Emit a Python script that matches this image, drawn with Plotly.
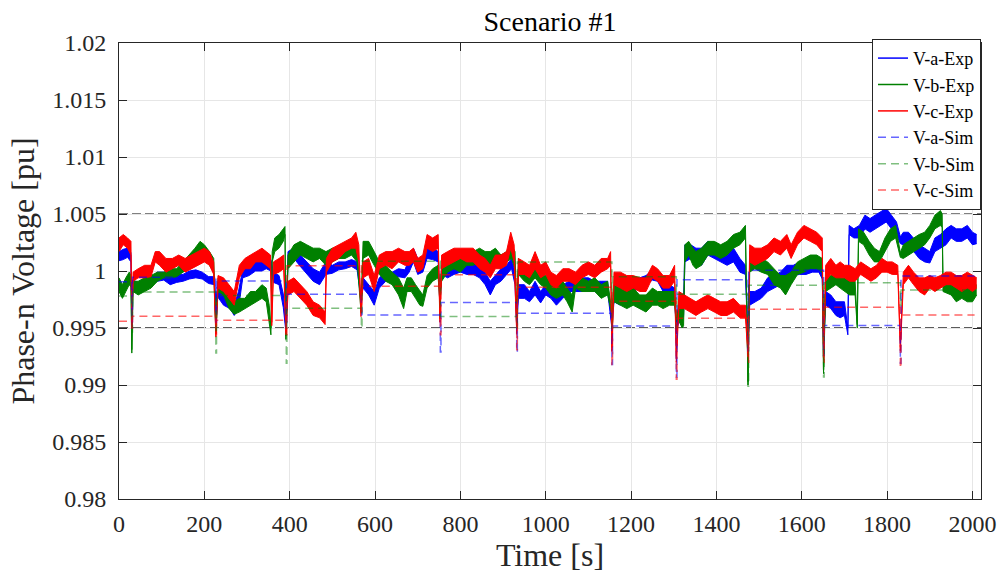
import plotly.graph_objects as go

# ---------------- data ----------------
# Experimental phase voltages: (time [s], band low [pu], band high [pu])
exp_a = [(0,1.0009,1.0017),(10,1.0010,1.0019),(20,1.0012,1.0020),(28,1.0008,1.0016),(30,0.9956,0.9960),(32,0.9985,0.9992),
 (45,0.9983,0.9990),(60,0.9985,0.9993),(75,0.9987,0.9994),(90,0.9991,0.9999),(105,0.9992,0.9999),(120,0.9988,0.9995),
 (135,0.9990,0.9997),(150,0.9991,0.9997),(165,0.9993,1.0000),(180,0.9994,1.0001),(195,0.9993,0.9999),(210,0.9989,0.9995),
 (224,0.9988,0.9995),(227,0.9962,0.9966),(230,0.9978,0.9986),(245,0.9970,0.9982),(260,0.9967,0.9976),(270,0.9961,0.9970),
 (280,0.9967,0.9982),(290,0.9994,1.0002),(305,0.9996,1.0008),(320,1.0000,1.0008),(335,1.0000,1.0010),(345,1.0002,1.0012),
 (356,1.0000,1.0010),(362,0.9990,0.9999),(375,0.9988,0.9996),(385,0.9968,0.9980),(391,0.9947,0.9950),(396,1.0008,1.0017),
 (410,1.0011,1.0020),(425,1.0004,1.0014),(440,0.9997,1.0008),(455,0.9991,1.0002),(470,0.9988,0.9999),(485,0.9997,1.0008),
 (500,0.9998,1.0005),(515,1.0001,1.0008),(530,1.0002,1.0008),(545,1.0004,1.0010),(558,1.0001,1.0008),(567,0.9975,0.9978),
 (572,0.9985,0.9994),(585,0.9979,0.9988),(598,0.9970,0.9982),(610,0.9985,0.9994),(625,0.9991,0.9999),(640,0.9992,0.9999),
 (655,0.9995,1.0002),(670,0.9994,1.0001),(680,0.9999,1.0011),(690,1.0008,1.0020),(700,0.9997,1.0011),(712,0.9999,1.0008),
 (722,1.0011,1.0020),(735,1.0010,1.0020),(748,1.0008,1.0017),(752,0.9968,0.9972),(756,0.9997,1.0005),(770,0.9994,1.0002),
 (785,0.9997,1.0008),(800,0.9999,1.0008),(815,0.9997,1.0005),(830,0.9997,1.0008),(845,0.9994,1.0005),(858,0.9988,0.9999),
 (870,0.9979,0.9991),(882,0.9988,0.9996),(895,0.9991,1.0002),(908,0.9997,1.0005),(920,1.0002,1.0011),(928,0.9988,0.9999),
 (932,0.9950,0.9953),(936,0.9976,0.9988),(950,0.9976,0.9988),(962,0.9973,0.9982),(975,0.9979,0.9991),(988,0.9972,0.9982),
 (1000,0.9979,0.9988),(1012,0.9976,0.9988),(1025,0.9970,0.9985),(1040,0.9976,0.9988),(1055,0.9982,0.9991),(1070,0.9982,0.9991),
 (1085,0.9982,0.9994),(1100,0.9985,0.9994),(1115,0.9982,0.9991),(1130,0.9979,0.9991),(1145,0.9982,0.9991),(1155,0.9950,0.9953),
 (1160,0.9973,0.9985),(1175,0.9970,0.9982),(1190,0.9979,0.9991),(1205,0.9982,0.9994),(1220,0.9985,0.9994),(1235,0.9988,0.9996),
 (1250,0.9992,1.0001),(1262,0.9991,0.9999),(1275,0.9982,0.9991),(1290,0.9979,0.9988),(1302,0.9976,0.9985),(1306,0.9945,0.9948),
 (1312,0.9956,0.9973),(1320,0.9959,0.9970),(1323,0.9960,0.9968),(1326,1.0008,1.0023),(1340,1.0011,1.0023),(1352,1.0008,1.0020),
 (1365,1.0005,1.0020),(1380,1.0014,1.0026),(1395,1.0011,1.0023),(1410,1.0008,1.0020),(1425,1.0005,1.0017),(1440,1.0008,1.0020),
 (1455,0.9999,1.0011),(1468,0.9997,1.0005),(1474,0.9935,0.9938),(1478,0.9970,0.9982),(1490,0.9973,0.9982),(1505,0.9976,0.9985),
 (1520,0.9982,0.9994),(1535,0.9985,0.9996),(1550,0.9988,0.9999),(1565,0.9994,1.0005),(1580,0.9996,1.0005),(1595,0.9997,1.0008),
 (1610,0.9997,1.0005),(1625,0.9999,1.0008),(1640,0.9999,1.0008),(1648,0.9993,1.0000),(1651,0.9935,0.9938),(1656,0.9970,0.9982),
 (1668,0.9967,0.9979),(1680,0.9961,0.9973),(1690,0.9959,0.9973),(1700,0.9961,0.9973),(1708,0.9944,0.9950),(1711,1.0032,1.0040),
 (1722,1.0029,1.0037),(1735,1.0029,1.0040),(1748,1.0037,1.0049),(1760,1.0034,1.0046),(1772,1.0037,1.0049),(1785,1.0040,1.0052),
 (1798,1.0043,1.0055),(1810,1.0037,1.0049),(1822,1.0032,1.0043),(1831,1.0024,1.0030),(1838,1.0023,1.0034),(1850,1.0023,1.0034),
 (1862,1.0017,1.0029),(1875,1.0011,1.0023),(1888,1.0008,1.0020),(1900,1.0007,1.0017),(1912,1.0017,1.0029),(1925,1.0020,1.0032),
 (1938,1.0023,1.0037),(1950,1.0029,1.0040),(1962,1.0026,1.0037),(1975,1.0026,1.0037),(1988,1.0029,1.0040),(2000,1.0023,1.0034),
 (2010,1.0024,1.0032)]

exp_b = [(0,0.9982,0.9994),(8,0.9976,0.9988),(16,0.9982,0.9994),(24,0.9988,0.9999),(28,0.9986,0.9996),(30,0.9928,0.9931),
 (33,0.9982,0.9991),(45,0.9979,0.9991),(60,0.9982,0.9994),(75,0.9985,0.9996),(90,0.9991,0.9999),(105,0.9994,0.9999),
 (120,0.9994,1.0002),(135,0.9995,1.0002),(150,0.9999,1.0008),(165,1.0002,1.0014),(178,1.0011,1.0020),(190,1.0017,1.0026),
 (200,1.0014,1.0023),(212,1.0005,1.0017),(222,0.9999,1.0011),(227,0.9945,0.9948),(232,0.9982,0.9994),(245,0.9979,0.9991),
 (258,0.9967,0.9979),(270,0.9962,0.9973),(282,0.9964,0.9976),(295,0.9967,0.9976),(308,0.9970,0.9982),(320,0.9973,0.9982),
 (335,0.9976,0.9988),(345,0.9973,0.9985),(352,0.9956,0.9970),(356,0.9944,0.9950),(359,1.0008,1.0017),(365,1.0017,1.0029),
 (375,1.0020,1.0032),(385,1.0026,1.0037),(389,1.0032,1.0039),(391,0.9940,0.9943),(396,1.0002,1.0014),(410,1.0008,1.0023),
 (425,1.0014,1.0026),(440,1.0011,1.0023),(455,1.0008,1.0020),(470,1.0011,1.0020),(485,1.0005,1.0017),(500,1.0008,1.0020),
 (515,1.0011,1.0020),(530,1.0011,1.0023),(545,1.0014,1.0026),(558,1.0008,1.0020),(567,0.9965,0.9968),(572,1.0011,1.0026),
 (585,1.0014,1.0026),(598,1.0005,1.0017),(610,0.9997,1.0008),(625,0.9991,1.0005),(640,0.9988,0.9999),(655,0.9979,0.9994),
 (667,0.9967,0.9985),(675,0.9982,0.9994),(685,0.9982,0.9994),(695,0.9976,0.9988),(705,0.9970,0.9982),(712,0.9969,0.9979),
 (722,0.9985,0.9996),(735,0.9991,1.0002),(748,0.9994,1.0005),(752,0.9972,0.9975),(756,0.9991,1.0002),(770,0.9999,1.0011),
 (785,1.0002,1.0014),(800,0.9999,1.0011),(815,1.0005,1.0017),(830,1.0005,1.0017),(845,1.0008,1.0020),(858,1.0005,1.0017),
 (870,1.0005,1.0017),(882,1.0008,1.0020),(895,1.0002,1.0014),(908,1.0008,1.0017),(920,1.0011,1.0023),(928,1.0002,1.0017),
 (932,0.9960,0.9963),(936,0.9997,1.0011),(950,0.9991,1.0005),(962,0.9988,0.9999),(975,0.9994,1.0005),(988,0.9988,0.9999),
 (1000,0.9985,0.9996),(1012,0.9979,0.9996),(1025,0.9976,0.9988),(1040,0.9979,0.9991),(1050,0.9973,0.9985),(1062,0.9964,0.9979),
 (1070,0.9985,0.9994),(1085,0.9982,0.9994),(1100,0.9982,0.9991),(1115,0.9982,0.9994),(1130,0.9976,0.9988),(1145,0.9979,0.9991),
 (1155,0.9962,0.9965),(1160,0.9973,0.9988),(1175,0.9970,0.9988),(1190,0.9967,0.9982),(1205,0.9970,0.9985),(1220,0.9967,0.9979),
 (1235,0.9964,0.9979),(1250,0.9970,0.9985),(1262,0.9970,0.9982),(1275,0.9967,0.9982),(1290,0.9970,0.9982),(1302,0.9970,0.9982),
 (1306,0.9955,0.9958),(1312,0.9956,0.9970),(1320,0.9950,0.9967),(1323,0.9952,0.9962),(1326,1.0008,1.0023),(1335,1.0014,1.0026),
 (1345,1.0005,1.0020),(1352,1.0002,1.0017),(1365,1.0005,1.0020),(1380,1.0014,1.0026),(1395,1.0014,1.0026),(1410,1.0011,1.0023),
 (1425,1.0014,1.0026),(1440,1.0020,1.0032),(1455,1.0023,1.0034),(1468,1.0029,1.0040),(1474,0.9900,0.9903),(1478,0.9999,1.0017),
 (1490,1.0002,1.0014),(1505,0.9999,1.0011),(1520,0.9997,1.0008),(1535,0.9988,1.0002),(1550,0.9985,0.9996),(1562,0.9979,0.9996),
 (1575,0.9988,0.9999),(1590,0.9997,1.0008),(1605,0.9999,1.0011),(1620,1.0002,1.0014),(1635,1.0002,1.0014),(1648,0.9999,1.0011),
 (1651,0.9910,0.9913),(1656,0.9982,0.9994),(1668,0.9985,0.9996),(1680,0.9988,0.9999),(1690,0.9985,0.9994),(1700,0.9982,0.9994),
 (1712,0.9979,0.9994),(1725,0.9979,0.9991),(1730,0.9950,0.9953),(1733,1.0026,1.0037),(1745,1.0023,1.0034),(1758,1.0014,1.0026),
 (1770,1.0008,1.0020),(1782,1.0008,1.0017),(1795,1.0017,1.0029),(1808,1.0026,1.0037),(1820,1.0029,1.0040),(1831,1.0012,1.0016),
 (1838,1.0011,1.0023),(1850,1.0014,1.0026),(1862,1.0017,1.0029),(1875,1.0020,1.0032),(1888,1.0023,1.0034),(1900,1.0029,1.0040),
 (1912,1.0037,1.0049),(1925,1.0040,1.0053),(1929,1.0038,1.0050),(1931,0.9982,0.9994),(1950,0.9979,0.9988),(1962,0.9973,0.9985),
 (1975,0.9976,0.9988),(1988,0.9973,0.9985),(2000,0.9973,0.9985),(2010,0.9979,0.9988)]

exp_c = [(0,1.0017,1.0029),(10,1.0023,1.0032),(20,1.0020,1.0029),(28,1.0014,1.0026),(30,0.9950,0.9953),(33,0.9991,0.9999),
 (45,0.9994,1.0002),(60,0.9994,1.0005),(75,0.9995,1.0005),(85,1.0008,1.0017),(95,1.0005,1.0017),(110,0.9999,1.0011),
 (125,1.0002,1.0011),(140,1.0005,1.0014),(155,0.9999,1.0011),(170,1.0002,1.0014),(185,1.0005,1.0017),(200,1.0008,1.0020),
 (212,1.0005,1.0017),(222,0.9997,1.0008),(227,0.9942,0.9945),(232,0.9985,0.9996),(245,0.9982,0.9994),(258,0.9976,0.9988),
 (270,0.9970,0.9982),(282,0.9994,1.0005),(295,1.0002,1.0011),(308,1.0002,1.0014),(320,1.0008,1.0017),(335,1.0008,1.0020),
 (345,1.0005,1.0017),(355,1.0002,1.0014),(358,0.9952,0.9955),(362,0.9997,1.0008),(375,0.9999,1.0011),(386,1.0002,1.0014),
 (391,0.9944,0.9947),(396,0.9979,0.9991),(410,0.9982,0.9994),(425,0.9976,0.9988),(440,0.9970,0.9982),(455,0.9961,0.9973),
 (470,0.9959,0.9970),(483,0.9953,0.9964),(486,0.9999,1.0011),(500,1.0008,1.0020),(515,1.0011,1.0023),(530,1.0017,1.0026),
 (545,1.0020,1.0029),(555,1.0020,1.0034),(562,1.0008,1.0023),(567,0.9960,0.9963),(572,0.9994,1.0008),(585,0.9997,1.0011),
 (598,0.9982,0.9996),(610,1.0002,1.0014),(625,1.0005,1.0017),(640,1.0002,1.0017),(655,1.0008,1.0020),(670,1.0005,1.0017),
 (680,1.0005,1.0017),(690,1.0008,1.0020),(700,0.9999,1.0011),(712,1.0002,1.0014),(722,1.0020,1.0032),(735,1.0017,1.0029),
 (748,1.0020,1.0032),(752,0.9955,0.9958),(756,1.0002,1.0014),(770,1.0005,1.0017),(785,1.0008,1.0020),(800,1.0011,1.0020),
 (815,1.0008,1.0020),(830,1.0008,1.0020),(845,1.0002,1.0014),(858,0.9999,1.0011),(870,0.9994,1.0005),(882,1.0002,1.0014),
 (895,1.0002,1.0014),(908,1.0005,1.0017),(918,1.0020,1.0034),(926,1.0008,1.0023),(932,0.9945,0.9948),(936,0.9997,1.0011),
 (950,0.9997,1.0008),(962,0.9994,1.0005),(975,1.0002,1.0017),(988,0.9994,1.0005),(1000,0.9997,1.0008),(1012,0.9988,0.9999),
 (1025,0.9985,0.9996),(1040,0.9991,1.0002),(1055,0.9991,1.0002),(1070,0.9988,0.9999),(1085,0.9994,1.0005),(1100,0.9997,1.0008),
 (1115,0.9994,1.0005),(1130,0.9999,1.0011),(1145,1.0002,1.0011),(1152,1.0005,1.0017),(1155,0.9930,0.9933),(1160,0.9988,0.9999),
 (1175,0.9985,0.9999),(1190,0.9982,0.9996),(1205,0.9985,0.9996),(1220,0.9982,0.9994),(1235,0.9982,0.9994),(1250,0.9994,1.0005),
 (1262,0.9991,1.0002),(1275,0.9985,0.9996),(1290,0.9985,0.9996),(1302,0.9991,1.0005),(1306,0.9920,0.9923),(1312,0.9967,0.9982),
 (1325,0.9967,0.9979),(1340,0.9964,0.9976),(1352,0.9961,0.9973),(1365,0.9964,0.9976),(1380,0.9967,0.9979),(1395,0.9964,0.9976),
 (1410,0.9961,0.9973),(1425,0.9961,0.9973),(1440,0.9964,0.9976),(1455,0.9959,0.9970),(1468,0.9959,0.9970),(1474,0.9925,0.9928),
 (1478,1.0008,1.0023),(1490,1.0005,1.0020),(1505,1.0008,1.0020),(1520,1.0011,1.0023),(1535,1.0017,1.0029),(1550,1.0014,1.0026),
 (1565,1.0020,1.0032),(1575,1.0011,1.0023),(1590,1.0023,1.0034),(1605,1.0029,1.0040),(1620,1.0026,1.0037),(1635,1.0023,1.0034),
 (1648,1.0017,1.0029),(1651,0.9925,0.9928),(1656,0.9991,1.0005),(1668,0.9997,1.0011),(1680,0.9994,1.0005),(1690,0.9994,1.0008),
 (1700,0.9994,1.0005),(1712,0.9991,1.0005),(1725,0.9991,1.0002),(1738,0.9997,1.0008),(1750,0.9994,1.0005),(1762,0.9991,1.0002),
 (1775,0.9994,1.0005),(1788,0.9999,1.0011),(1800,0.9999,1.0008),(1812,0.9997,1.0008),(1825,0.9997,1.0005),(1831,0.9930,0.9933),
 (1838,0.9988,0.9999),(1850,0.9994,1.0005),(1862,0.9988,0.9999),(1875,0.9982,0.9994),(1888,0.9979,0.9994),(1900,0.9985,0.9996),
 (1912,0.9982,0.9994),(1925,0.9985,0.9996),(1938,0.9988,0.9999),(1950,0.9988,0.9999),(1962,0.9985,0.9996),(1975,0.9982,0.9996),
 (1988,0.9985,0.9999),(2000,0.9982,0.9996),(2010,0.9985,0.9994)]

# Simulation: switching instants, piecewise-constant levels and the dip at each switching instant
sim_events = [30, 227, 392, 568, 753, 932, 1155, 1306, 1474, 1651, 1831]
sim_end = 2005
sim_a_levels = [0.99906, 0.99945, 0.99912, 0.99796, 0.99615, 0.99723, 0.99629, 0.99518, 0.99924, 1.00006, 0.99521, 0.99956]
sim_b_levels = [0.99781, 0.99816, 0.99784, 0.99673, 1.00085, 0.99600, 1.00079, 0.99950, 0.99796, 0.99875, 0.99898, 0.99834]
sim_c_levels = [0.99560, 0.99603, 0.99568, 1.00046, 0.99866, 0.99968, 0.99857, 0.99735, 0.99586, 0.99665, 0.99682, 0.99615]
sim_a_dips = [0.9950, 0.9955, 0.9950, 0.9970, 0.9929, 0.9929, 0.9918, 0.9907, 0.9930, 0.9926, 0.9919]
sim_b_dips = [0.9945, 0.9928, 0.9919, 0.9950, 0.9960, 0.9950, 0.9950, 0.9950, 0.9899, 0.9907, 0.9970]
sim_c_dips = [0.9950, 0.9944, 0.9944, 0.9965, 0.9944, 0.9931, 0.9918, 0.9905, 0.9920, 0.9920, 0.9915]

limit_levels = [1.005, 0.995]
y_tickvals = [0.98, 0.985, 0.99, 0.995, 1.0, 1.005, 1.01, 1.015, 1.02]
y_ticktext = ["0.98", "0.985", "0.99", "0.995", "1", "1.005", "1.01", "1.015", "1.02"]
x_tickvals = [0, 200, 400, 600, 800, 1000, 1200, 1400, 1600, 1800, 2000]

names_exp = ["V-a-Exp", "V-b-Exp", "V-c-Exp"]
names_sim = ["V-a-Sim", "V-b-Sim", "V-c-Sim"]

# ---------------- styles ----------------
FONT = "Liberation Serif"
exp_colors = ["#0000ff", "#008000", "#ff0000"]
sim_colors = ["rgba(0,0,255,0.6)", "rgba(0,128,0,0.5)", "rgba(255,0,0,0.6)"]

fig = go.Figure()

# experimental bands
for rows, col in zip([exp_a, exp_b, exp_c], exp_colors):
    t = [r[0] for r in rows]
    lo = [r[1] for r in rows]
    hi = [r[2] for r in rows]
    fig.add_trace(go.Scatter(x=t, y=lo, mode="lines", line=dict(color=col, width=1),
                             showlegend=False, hoverinfo="skip"))
    fig.add_trace(go.Scatter(x=t, y=hi, mode="lines", line=dict(color=col, width=1),
                             fill="tonexty", fillcolor=col, showlegend=False, hoverinfo="skip"))

# simulation step traces
for levels, dips, col in zip([sim_a_levels, sim_b_levels, sim_c_levels],
                             [sim_a_dips, sim_b_dips, sim_c_dips], sim_colors):
    xs = [0]
    ys = [levels[0]]
    for i, e in enumerate(sim_events):
        xs += [e, e + 1.5]
        ys += [dips[i], levels[i + 1]]
    xs.append(sim_end)
    ys.append(levels[-1])
    fig.add_trace(go.Scatter(x=xs, y=ys, mode="lines", line_shape="hv",
                             line=dict(color=col, width=1.5, dash="8px,5px"),
                             showlegend=False, hoverinfo="skip"))

# legend entries
for n, col in zip(names_exp, exp_colors):
    fig.add_trace(go.Scatter(x=[None], y=[None], mode="lines", name=n, line=dict(color=col, width=1.5)))
for n, col in zip(names_sim, sim_colors):
    fig.add_trace(go.Scatter(x=[None], y=[None], mode="lines", name=n,
                             line=dict(color=col, width=1.5, dash="8px,5px")))

# limit lines
fig.add_shape(type="line", xref="paper", x0=0, x1=1, yref="y", y0=limit_levels[0], y1=limit_levels[0],
              line=dict(color="#808080", width=2, dash="9px,4px"), layer="between")
fig.add_shape(type="line", xref="paper", x0=0, x1=1, yref="y", y0=limit_levels[1], y1=limit_levels[1],
              line=dict(color="#262626", width=1.5, dash="9px,4px"), layer="between")

axis_common = dict(showline=True, linecolor="#262626", linewidth=1, mirror="ticks",
                   ticks="inside", ticklen=8, tickcolor="#262626",
                   showgrid=True, gridcolor="#e6e6e6", gridwidth=1, zeroline=False,
                   tickfont=dict(family=FONT, size=24, color="#262626"))

fig.update_layout(
    width=1003, height=581,
    paper_bgcolor="white", plot_bgcolor="white",
    margin=dict(l=119, r=22, t=43, b=82, autoexpand=False),
    title=dict(text="Scenario #1", x=0.5, xref="paper", y=1 - 21 / 581, yanchor="middle",
               font=dict(family=FONT, size=28, color="#000000")),
    xaxis=dict(range=[0, 2020], tickvals=x_tickvals, ticklabelstandoff=3, automargin=False,
               title=dict(text="Time [s]", font=dict(family=FONT, size=32, color="#262626"), standoff=4),
               **axis_common),
    yaxis=dict(range=[0.98, 1.02], tickvals=y_tickvals, ticktext=y_ticktext, ticklabelstandoff=7, automargin=False,
               title=dict(text="Phase-n Voltage [pu]", font=dict(family=FONT, size=32, color="#262626"), standoff=8),
               **axis_common),
    legend=dict(x=1, xanchor="right", y=1.009, yanchor="top", bgcolor="white",
                bordercolor="#262626", borderwidth=1, tracegroupgap=0, traceorder="normal",
                font=dict(family=FONT, size=18, color="#000000")),
    showlegend=True,
)

fig.write_html("out.html", config={"displayModeBar": False},
               post_script="document.body.style.margin='0px';")
